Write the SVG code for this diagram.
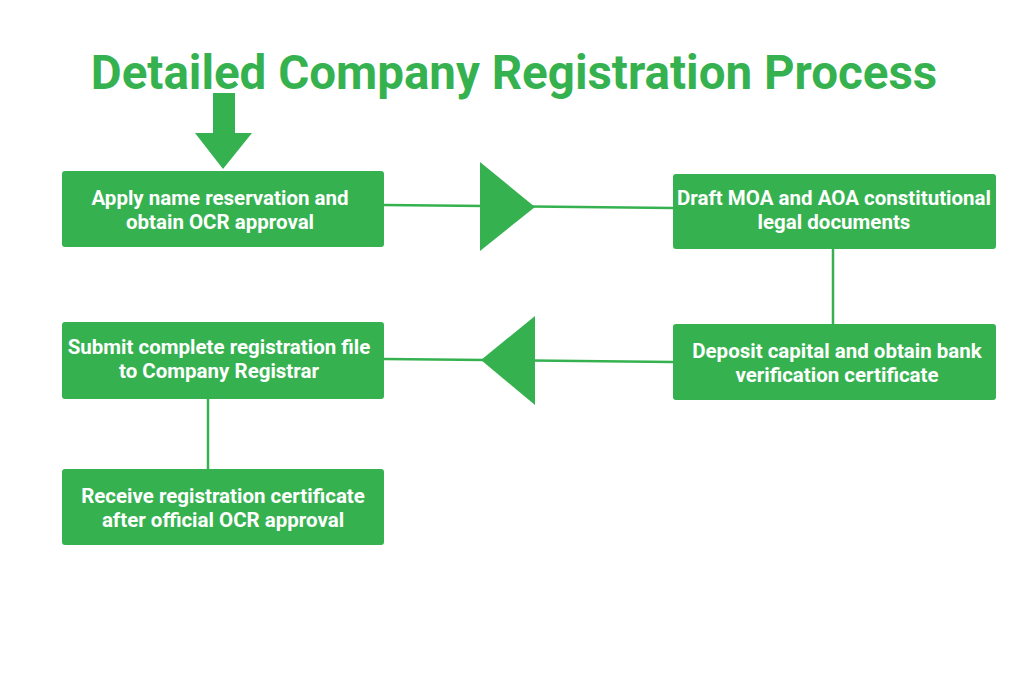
<svg xmlns="http://www.w3.org/2000/svg" width="1024" height="683" viewBox="0 0 1024 683">
<style>
.node{fill:#35b24f;}
.t{font-family:Roboto,"Liberation Sans",sans-serif;font-weight:700;font-size:20.5px;fill:#ffffff;text-anchor:middle;}
.title{font-family:Roboto,"Liberation Sans",sans-serif;font-weight:700;font-size:47.5px;fill:#35b24f;text-anchor:middle;}
.ln{stroke:#35b24f;stroke-width:2.5;fill:none;}
.ah{fill:#35b24f;}
</style>
<rect width="1024" height="683" fill="#ffffff"/>
<text class="title" x="514" y="89">Detailed Company Registration Process</text>
<g id="connectors">
<polygon class="ah" points="213,93 235,93 235,133 252,133 223,169 195,133 213,133"/>
<line class="ln" x1="384" y1="205" x2="673" y2="208"/>
<polygon class="ah" points="480,162 480,251 535,207"/>
<line class="ln" x1="833" y1="249" x2="833" y2="324"/>
<line class="ln" x1="384" y1="359" x2="673" y2="362"/>
<polygon class="ah" points="535,316 535,405 481,360"/>
<line class="ln" x1="208" y1="399" x2="208" y2="469"/>
</g>
<g id="n1"><rect class="node" x="62" y="171" width="322" height="76" rx="3"/><text class="t" x="220" y="205">Apply name reservation and</text><text class="t" x="220" y="229">obtain OCR approval</text></g>
<g id="n2"><rect class="node" x="673" y="174" width="323" height="75" rx="3"/><text class="t" x="834" y="205">Draft MOA and AOA constitutional</text><text class="t" x="834" y="229">legal documents</text></g>
<g id="n3"><rect class="node" x="673" y="324" width="323" height="76" rx="3"/><text class="t" x="837" y="358">Deposit capital and obtain bank</text><text class="t" x="837" y="382">verification certificate</text></g>
<g id="n4"><rect class="node" x="62" y="322" width="322" height="77" rx="3"/><text class="t" x="219" y="354">Submit complete registration file</text><text class="t" x="219" y="378">to Company Registrar</text></g>
<g id="n5"><rect class="node" x="62" y="469" width="322" height="76" rx="3"/><text class="t" x="223" y="503">Receive registration certificate</text><text class="t" x="223" y="527">after official OCR approval</text></g>
</svg>
